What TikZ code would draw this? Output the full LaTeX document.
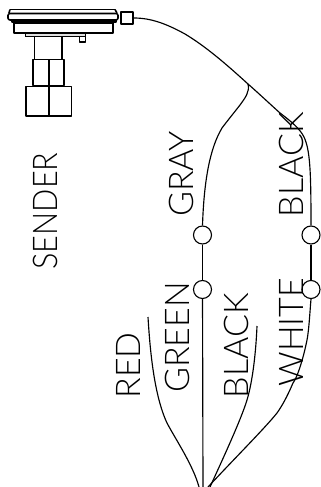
\documentclass[tikz,border=0pt]{standalone}
\usepackage{fontspec}
\setmainfont{Lato Light}
\newcommand{\sq}[1]{\scalebox{1.0}[1]{#1}}
\tikzset{
  wire/.style={line width=1.15pt,line join=round},
  part/.style={line width=1.6pt,line join=round},
  splice/.style={circle,draw,line width=1.15pt,minimum size=18pt,inner sep=0pt,fill=white},
  lbl/.style={inner sep=0pt,font=\fontsize{34}{34}\selectfont,rotate=90,anchor=center},
}
\begin{document}
\begin{tikzpicture}[x=1pt,y=-1pt]
\useasboundingbox[fill=white] (0,0) rectangle (321,487);
% sender body
\draw[part,line width=1.8pt] (10,9.5) -- (115,9.5);
\draw[part] (10,9.5) -- (9,13) (115,9.5) -- (117,13);
\draw[part,rounded corners=2pt] (8,13.5) rectangle (118,20);
\draw[part,fill=gray!70] (12,20) -- (116,20) -- (116,22) -- (12,22) -- cycle;
\draw[part] (14,23) rectangle (113,33);
\draw[line width=0.8pt,fill=gray!25] (25,33) rectangle (85,36.5);
\draw[part] (79.5,36.5) -- (79.5,42) -- (85.5,42) -- (85.5,36.5);
\draw[part] (34.5,37) -- (34.5,59) (62,37) -- (62,59);
\draw[part] (33,59.5) rectangle (64,85.5);
\draw[part] (48.7,59.5) -- (48.7,85.5);
\draw[part] (26,86.5) rectangle (71.5,116);
\draw[part] (48.7,86.5) -- (48.7,116);
\node[draw,part,minimum size=12pt,inner sep=0pt] (conn) at (127,18) {};
% splices
\node[splice] (s1) at (202.5,235) {};
\node[splice] (s2) at (311,235) {};
\node[splice] (s3) at (202.5,289.5) {};
\node[splice] (s4) at (311,289.5) {};
\coordinate (j) at (248,84);
\coordinate (hub) at (203,487);
\coordinate (redend) at (148,317);
\coordinate (blackend) at (257,326);
% wires
\draw[wire] (conn.east) .. controls (150,18) and (165,23) .. (185,34) .. controls (205,46) and (225,63) .. (j);
\draw[wire] (j) .. controls (255,90) and (270,104) .. (280,113) .. controls (292,122) and (300,129) .. (304,137) .. controls (310,150) and (311,170) .. (s2.north);
\draw[wire] (j) .. controls (250,92) and (245,98) .. (240,105) .. controls (233,114) and (228,120) .. (222,128) .. controls (210,148) and (204,180) .. (s1.north);
\draw[wire] (s1) -- (s3);
\draw[wire] (s2) -- (s4);
\draw[wire] (s3) -- (hub);
\draw[wire] (redend) .. controls (150,350) and (154,395) .. (167,423) .. controls (176,440) and (193,465) .. (199,487);
\draw[wire] (blackend) .. controls (256,350) and (253,380) .. (247,400) .. controls (241,420) and (220,465) .. (210,487);
\draw[wire] (s4.south) .. controls (310,310) and (309,330) .. (307,340) .. controls (303,360) and (297,378) .. (293,383) .. controls (287,397) and (282,406) .. (277,413) .. controls (265,428) and (235,458) .. (208,487);
% labels
\node[lbl] (sender) at (45,211) {\scalebox{0.9}[1]{SENDER}};
\node[lbl] (gray) at (181.5,174) {\sq{GRAY}};
\node[lbl] (blacku) at (291,164.5) {\sq{BLACK}};
\node[lbl] (green) at (177.5,337.5) {\sq{GREEN}};
\node[lbl] (red) at (128,365.5) {\sq{RED}};
\node[lbl] (blackl) at (236.5,345.5) {\sq{BLACK}};
\node[lbl] (white) at (291,332) {\sq{WHITE}};
\end{tikzpicture}
\end{document}
